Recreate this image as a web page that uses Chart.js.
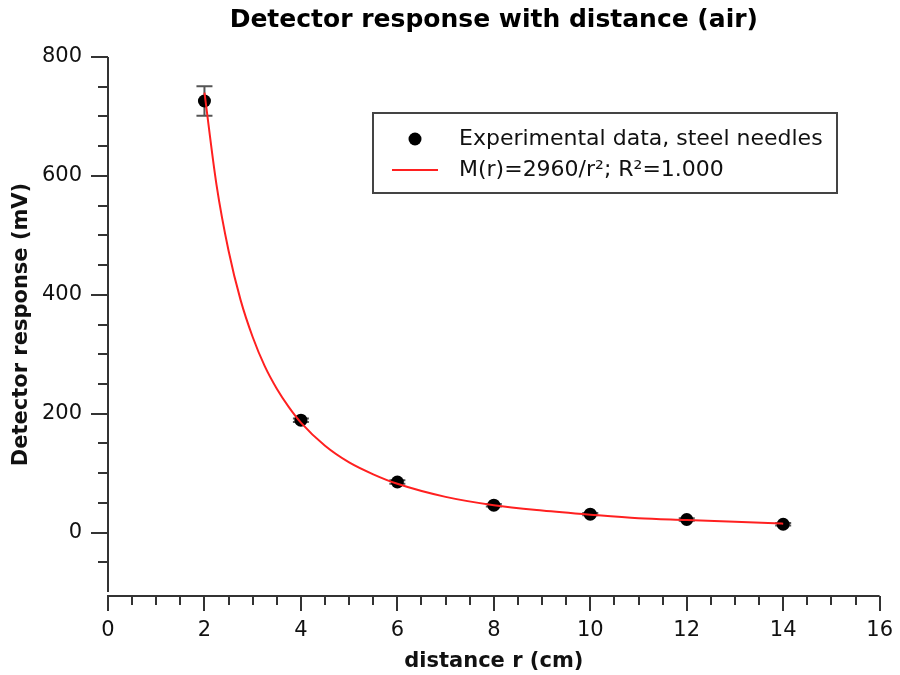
<!DOCTYPE html>
<html>
<head>
<meta charset="utf-8">
<script src="https://cdn.jsdelivr.net/npm/chart.js@4.4.0/dist/chart.umd.min.js"></script>
<style>
html, body { margin: 0; padding: 0; background: #fff; }
</style>
</head>
<body>
<canvas id="chart" width="900" height="675"></canvas>
<script>
const distances = [2, 4, 6, 8, 10, 12, 14];
const responses = [726, 189, 85, 46, 31, 22, 14];
const responseErrors = [25, 3, 3, 2, 2, 2, 2];
const fitDistances = [2, 2.25, 2.5, 2.75, 3, 3.25, 3.5, 3.75, 4, 4.5, 5, 5.5, 6, 7, 8, 9, 10, 11, 12, 13, 14];
const fitResponses = [740, 585, 474, 391, 329, 280, 242, 211, 185, 146, 118, 98, 82, 60, 46, 37, 30, 24, 21, 18, 15];
const xTicks = [0, 2, 4, 6, 8, 10, 12, 14, 16];
const yTicks = [0, 200, 400, 600, 800];

const FONT = 'DejaVu Sans';

// axis lines with major + minor ticks (x axis sits a little below the plot)
const axesPlugin = {
    id: 'axes',
    afterDraw(chart) {
        const { ctx, chartArea: a, scales: { x, y } } = chart;
        ctx.save();
        ctx.strokeStyle = '#333';
        ctx.lineWidth = 2;
        ctx.beginPath();
        ctx.moveTo(a.left, a.top);
        ctx.lineTo(a.left, a.bottom);
        for (let v = y.min + 50; v <= y.max; v += 50) {
            const py = Math.round(y.getPixelForValue(v));
            const len = yTicks.includes(v) ? 17 : 10;
            ctx.moveTo(a.left, py);
            ctx.lineTo(a.left - len, py);
        }
        const xb = a.bottom + 4;
        ctx.moveTo(a.left - 1, xb);
        ctx.lineTo(a.right, xb);
        for (let v = x.min; v <= x.max; v += 0.5) {
            const px = Math.round(x.getPixelForValue(v));
            const len = xTicks.includes(v) ? 15 : 9;
            ctx.moveTo(px, xb);
            ctx.lineTo(px, xb + len);
        }
        ctx.stroke();
        ctx.restore();
    }
};

const errorBarPlugin = {
    id: 'errorBars',
    beforeDatasetsDraw(chart) {
        const { ctx, scales: { x, y } } = chart;
        ctx.save();
        ctx.strokeStyle = '#555';
        ctx.lineWidth = 2;
        distances.forEach((d, i) => {
            const px = x.getPixelForValue(d);
            const hi = y.getPixelForValue(responses[i] + responseErrors[i]);
            const lo = y.getPixelForValue(responses[i] - responseErrors[i]);
            ctx.beginPath();
            ctx.moveTo(px, hi); ctx.lineTo(px, lo);
            ctx.moveTo(px - 8, hi); ctx.lineTo(px + 8, hi);
            ctx.moveTo(px - 8, lo); ctx.lineTo(px + 8, lo);
            ctx.stroke();
        });
        ctx.restore();
    }
};

// boxed legend inside the plot, upper right
const boxLegendPlugin = {
    id: 'boxLegend',
    afterDraw(chart) {
        const { ctx, chartArea: a } = chart;
        const fit = chart.data.datasets[0];
        const pts = chart.data.datasets[1];
        const left = a.left + 265, top = a.top + 56, w = 464, h = 80;
        ctx.save();
        ctx.fillStyle = '#fff';
        ctx.fillRect(left, top, w, h);
        ctx.strokeStyle = '#444';
        ctx.lineWidth = 2;
        ctx.strokeRect(left, top, w, h);

        ctx.fillStyle = pts.backgroundColor;
        ctx.beginPath();
        ctx.arc(left + 42, top + 26, 6.5, 0, Math.PI * 2);
        ctx.fill();

        ctx.strokeStyle = fit.borderColor;
        ctx.lineWidth = fit.borderWidth;
        ctx.beginPath();
        ctx.moveTo(left + 19, top + 57);
        ctx.lineTo(left + 65, top + 57);
        ctx.stroke();

        ctx.fillStyle = '#111';
        ctx.font = '22px "' + FONT + '"';
        ctx.textBaseline = 'middle';
        ctx.fillText(pts.label, left + 86, top + 26);
        ctx.fillText(fit.label, left + 86, top + 57);
        ctx.restore();
    }
};

const ctx = document.getElementById('chart').getContext('2d');
new Chart(ctx, {
    type: 'scatter',
    data: {
        datasets: [{
            label: 'M(r)=2960/r²; R²=1.000',
            data: fitDistances.map((d, i) => ({ x: d, y: fitResponses[i] })),
            showLine: true,
            borderColor: '#ff2020',
            borderWidth: 2,
            pointRadius: 0,
            cubicInterpolationMode: 'monotone',
            fill: false
        }, {
            label: 'Experimental data, steel needles',
            data: distances.map((d, i) => ({ x: d, y: responses[i] })),
            backgroundColor: '#000',
            borderWidth: 0,
            pointRadius: 6.5,
            pointHoverRadius: 6.5
        }]
    },
    options: {
        responsive: false,
        animation: false,
        events: [],
        layout: { padding: { top: 0, right: 18, bottom: 0, left: 0 } },
        plugins: {
            legend: { display: false },
            tooltip: { enabled: false },
            title: {
                display: true,
                fullSize: false,
                text: 'Detector response with distance (air)',
                color: '#000',
                font: { family: FONT, size: 25, weight: 'bold' },
                padding: { top: 5, bottom: 22 }
            }
        },
        scales: {
            x: {
                type: 'linear',
                min: 0,
                max: 16,
                afterBuildTicks: s => { s.ticks = xTicks.map(v => ({ value: v })); },
                afterFit: s => { s.height = 83; },
                grid: { drawOnChartArea: false, color: 'rgba(0,0,0,0)', tickLength: 19 },
                border: { display: false },
                ticks: { color: '#111', font: { family: FONT, size: 21 }, padding: 7, maxRotation: 0, autoSkip: false },
                title: {
                    display: true,
                    text: 'distance r (cm)',
                    color: '#111',
                    font: { family: FONT, size: 21, weight: 'bold' },
                    padding: { top: 0, bottom: 1 }
                }
            },
            y: {
                type: 'linear',
                min: -100,
                max: 800,
                afterBuildTicks: s => { s.ticks = yTicks.map(v => ({ value: v })); },
                afterFit: s => { s.width = 108; },
                grid: { drawOnChartArea: false, color: 'rgba(0,0,0,0)', tickLength: 17 },
                border: { display: false },
                ticks: { color: '#111', font: { family: FONT, size: 21 }, padding: 9 },
                title: {
                    display: true,
                    text: 'Detector response (mV)',
                    color: '#111',
                    font: { family: FONT, size: 21, weight: 'bold' },
                    padding: { top: 9, bottom: 0 }
                }
            }
        }
    },
    plugins: [axesPlugin, errorBarPlugin, boxLegendPlugin]
});
</script>
</body>
</html>
